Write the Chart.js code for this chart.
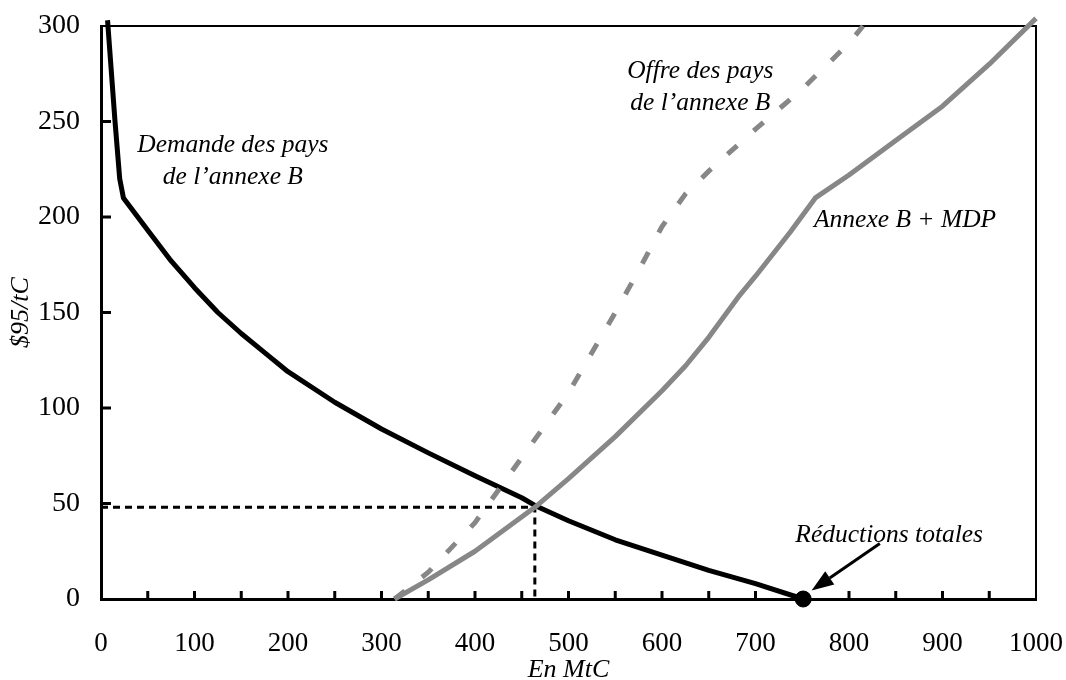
<!DOCTYPE html>
<html lang="fr">
<head>
<meta charset="UTF-8">
<title>Demande et offre de réductions</title>
<style>
  body { margin: 0; background: #fff; }
  #wrap { width: 1066px; height: 680px; }
</style>
</head>
<body>
<div id="wrap"><canvas id="chart"></canvas></div>
<script src="https://cdn.jsdelivr.net/npm/chart.js"></script>
<script>
// Demande des pays de l'annexe B
const demandX = [7, 15, 20, 24, 50, 75, 100, 125, 150, 175, 200, 250, 300, 350, 400, 450, 464, 500, 550, 600, 650, 700, 751];
const demandY = [303, 250, 220, 210, 193, 177, 163, 150, 139, 129, 119, 103, 89, 76.5, 64.5, 53, 49, 41, 31, 23, 15, 8, 0];

// Offre des pays de l'annexe B (pointillés gris)
const offerX = [314, 350, 400, 450, 500, 550, 575, 600, 625, 650, 700, 750, 800, 815];
const offerY = [0, 14, 40, 74, 108, 150, 172, 195, 212, 224, 246, 267, 291, 300];

// Annexe B + MDP
const mdpX = [314, 350, 400, 464, 500, 550, 600, 625, 650, 683, 700, 737, 764, 800, 850, 900, 950, 1000];
const mdpY = [0, 10, 25, 48, 63, 85, 109, 122, 137, 159, 169, 192, 210, 222, 240, 258, 280, 304];

// equilibre et réductions totales
const eqX = [0, 464, 464];
const eqY = [48, 48, 0];
const totalX = [751];
const totalY = [0];

// axes
const xTicks = [0, 100, 200, 300, 400, 500, 600, 700, 800, 900, 1000];
const yTicks = [0, 50, 100, 150, 200, 250, 300];
const minorStep = 50;

// annotations (en unités des axes)
const notes = [
  { lines: ['Demande des pays', 'de l\u2019annexe B'], x: 141, y: 234 },
  { lines: ['Offre des pays', 'de l\u2019annexe B'], x: 641, y: 273 },
  { lines: ['Annexe B + MDP'], x: 860, y: 195 },
  { lines: ['Réductions totales'], x: 843, y: 30 }
];
const arrowFrom = [833, 29];
const arrowTo = [760, 4.5];

const GRAY = '#878787';
const SERIF = '"Liberation Serif", "Times New Roman", serif';

function pts(xs, ys) {
  return xs.map((v, i) => ({ x: v, y: ys[i] }));
}

const decor = {
  id: 'decor',
  beforeDatasetsDraw(chart) {
    const { ctx, chartArea: a, scales: { x, y } } = chart;
    ctx.save();
    ctx.strokeStyle = '#000';
    ctx.lineWidth = 2;
    ctx.beginPath();
    ctx.moveTo(a.left, a.top);
    ctx.lineTo(a.right, a.top);
    ctx.lineTo(a.right, a.bottom);
    ctx.stroke();

    // petites graduations vers l'intérieur
    ctx.lineWidth = 3;
    ctx.beginPath();
    for (let v = minorStep; v < xTicks[xTicks.length - 1]; v += minorStep) {
      const px = x.getPixelForValue(v);
      ctx.moveTo(px, a.bottom);
      ctx.lineTo(px, a.bottom - 8);
    }
    for (let v = minorStep; v < yTicks[yTicks.length - 1]; v += minorStep) {
      const py = y.getPixelForValue(v);
      ctx.moveTo(a.left, py);
      ctx.lineTo(a.left + 10, py);
    }
    ctx.stroke();
    ctx.restore();
  },
  afterDraw(chart) {
    const { ctx, scales: { x, y } } = chart;
    ctx.save();
    ctx.fillStyle = '#000';
    ctx.font = 'italic 25.5px ' + SERIF;
    ctx.textAlign = 'center';
    ctx.textBaseline = 'alphabetic';
    notes.forEach(n => {
      const px = x.getPixelForValue(n.x);
      const py = y.getPixelForValue(n.y);
      n.lines.forEach((t, i) => ctx.fillText(t, px, py + i * 32));
    });

    // flèche vers le point
    const x0 = x.getPixelForValue(arrowFrom[0]), y0 = y.getPixelForValue(arrowFrom[1]);
    const x1 = x.getPixelForValue(arrowTo[0]), y1 = y.getPixelForValue(arrowTo[1]);
    const ang = Math.atan2(y1 - y0, x1 - x0);
    const len = 22, half = 8;
    const bx = x1 - len * Math.cos(ang), by = y1 - len * Math.sin(ang);
    ctx.strokeStyle = '#000';
    ctx.lineWidth = 3;
    ctx.beginPath();
    ctx.moveTo(x0, y0);
    ctx.lineTo(bx, by);
    ctx.stroke();
    ctx.beginPath();
    ctx.moveTo(x1, y1);
    ctx.lineTo(bx + half * Math.sin(ang), by - half * Math.cos(ang));
    ctx.lineTo(bx - half * Math.sin(ang), by + half * Math.cos(ang));
    ctx.closePath();
    ctx.fill();
    ctx.restore();
  }
};

Chart.defaults.font.family = SERIF;
Chart.defaults.color = '#000';

new Chart(document.getElementById('chart'), {
  type: 'line',
  data: {
    datasets: [
      {
        label: 'Réductions totales',
        data: pts(totalX, totalY),
        showLine: false,
        pointRadius: 8,
        pointBackgroundColor: '#000',
        pointBorderColor: '#000',
        clip: false
      },
      {
        label: 'Annexe B + MDP',
        data: pts(mdpX, mdpY),
        borderColor: GRAY,
        borderWidth: 5,
        pointRadius: 0,
        borderJoinStyle: 'round',
        clip: false
      },
      {
        label: 'Offre des pays de l\u2019annexe B',
        data: pts(offerX, offerY),
        borderColor: GRAY,
        borderWidth: 5,
        borderDash: [13, 22],
        pointRadius: 0,
        clip: false
      },
      {
        label: 'Demande des pays de l\u2019annexe B',
        data: pts(demandX, demandY),
        borderColor: '#000',
        borderWidth: 5,
        pointRadius: 0,
        borderJoinStyle: 'round',
        clip: false
      },
      {
        label: 'Équilibre',
        data: pts(eqX, eqY),
        borderColor: '#000',
        borderWidth: 3,
        borderDash: [7, 5],
        pointRadius: 0
      }
    ]
  },
  options: {
    responsive: true,
    maintainAspectRatio: false,
    animation: false,
    layout: { padding: { top: 26, right: 30, left: 0, bottom: 0 } },
    plugins: {
      legend: { display: false },
      tooltip: { enabled: false }
    },
    scales: {
      x: {
        type: 'linear',
        min: 0,
        max: 1000,
        afterBuildTicks: s => { s.ticks = xTicks.map(v => ({ value: v })); },
        afterFit: s => { s.height = 81; s.paddingLeft = 0; s.paddingRight = 0; },
        grid: { display: false },
        border: { display: true, color: '#000', width: 3 },
        ticks: { font: { size: 27 }, padding: 21, maxRotation: 0, callback: v => String(v) },
        title: {
          display: true,
          text: 'En MtC',
          font: { size: 26, style: 'italic' },
          padding: { top: 0, bottom: -6 }
        }
      },
      y: {
        min: 0,
        max: 300,
        afterBuildTicks: s => { s.ticks = yTicks.map(v => ({ value: v })); },
        afterFit: s => { s.width = 101; s.paddingTop = 0; s.paddingBottom = 0; },
        grid: { display: false },
        border: { display: true, color: '#000', width: 3 },
        ticks: { font: { size: 28 }, padding: 13, callback: v => String(v) },
        title: {
          display: true,
          text: '$95/tC',
          font: { size: 26, style: 'italic' },
          padding: { top: 6, bottom: 0 }
        }
      }
    }
  },
  plugins: [decor]
});
</script>
</body>
</html>
